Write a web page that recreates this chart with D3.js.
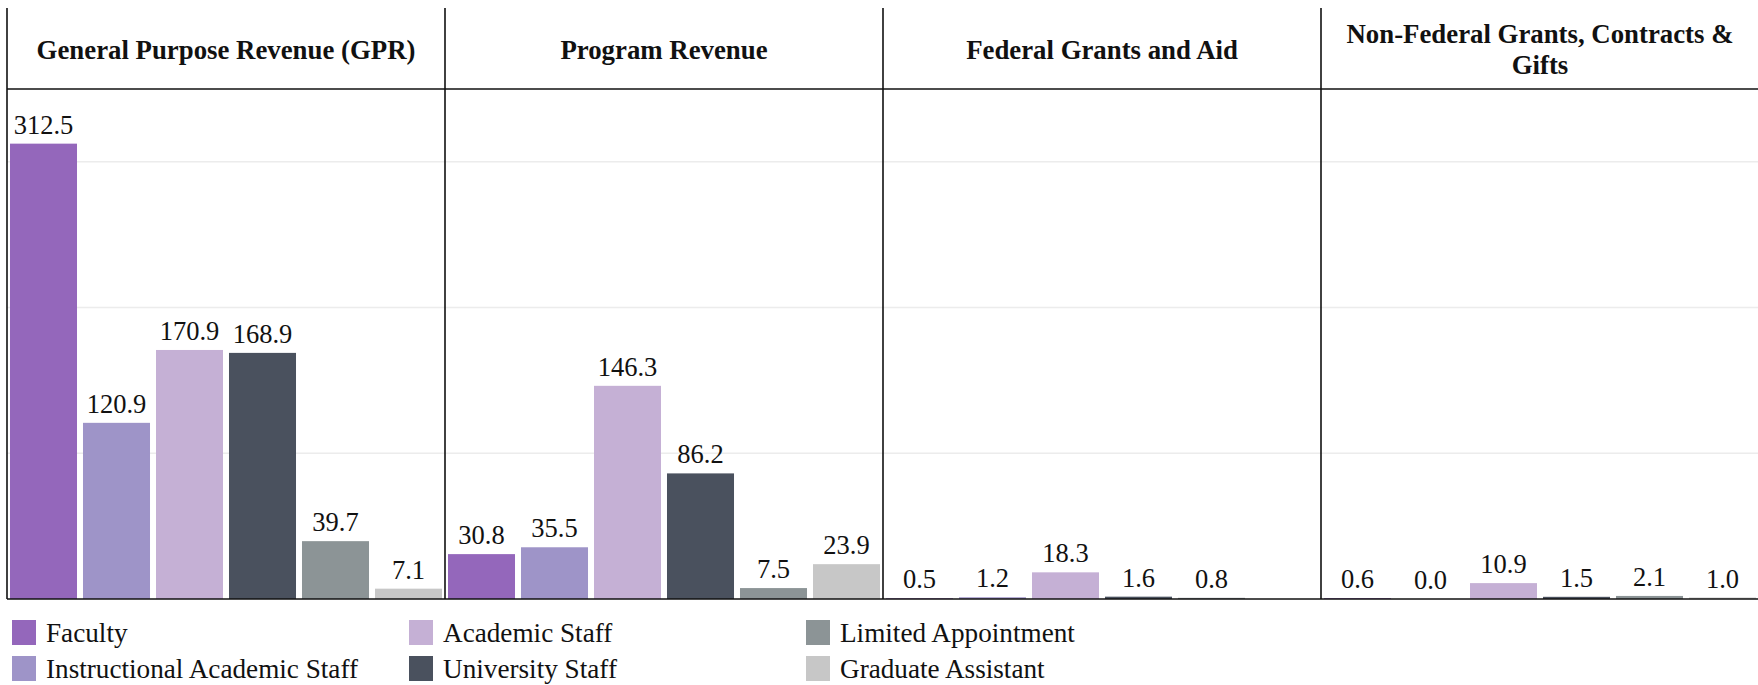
<!DOCTYPE html>
<html>
<head>
<meta charset="utf-8">
<script src="https://cdn.jsdelivr.net/npm/d3@7"></script>
<style>
  html, body { margin: 0; padding: 0; background: #ffffff; }
  svg { display: block; font-family: "Liberation Serif", "Times New Roman", serif; }
</style>
</head>
<body>
<svg id="chart" width="1758" height="685"></svg>
<script>
// Funding sources (one panel each)
const categories = [
  "General Purpose Revenue (GPR)",
  "Program Revenue",
  "Federal Grants and Aid",
  "Non-Federal Grants, Contracts & Gifts"
];

// Employee groups (one bar each inside a panel)
const seriesNames = [
  "Faculty",
  "Instructional Academic Staff",
  "Academic Staff",
  "University Staff",
  "Limited Appointment",
  "Graduate Assistant"
];

// Values per funding source, in the order of `categories`
const faculty         = [312.5, 30.8, 0.5, 0.6];
const instructional   = [120.9, 35.5, 1.2, 0.0];
const academicStaff   = [170.9, 146.3, 18.3, 10.9];
const universityStaff = [168.9, 86.2, 1.6, 1.5];
const limitedAppt     = [39.7, 7.5, 0.8, 2.1];
const gradAssistant   = [7.1, 23.9, null, 1.0];

const seriesColors = ["#9467bb", "#9e94c8", "#c5b0d5", "#4a515e", "#8c9496", "#c7c7c7"];
const yMax = 350;
const gridTicks = [100, 200, 300];

const seriesValues = [faculty, instructional, academicStaff, universityStaff, limitedAppt, gradAssistant];

const svg = d3.select("#chart");

const marginLeft = 7, marginTop = 8, headerH = 81, plotBottom = 599;
const panelW = 438;
const plotTop = marginTop + headerH;

const panelX = d3.scaleBand().domain(categories).range([marginLeft, marginLeft + panelW * categories.length]);
const x = d3.scaleBand().domain(seriesNames).range([0, panelW]).paddingInner(0.082).paddingOuter(0.041);
const y = d3.scaleLinear().domain([0, yMax]).range([plotBottom, plotTop]);
const color = d3.scaleOrdinal().domain(seriesNames).range(seriesColors);

const labelSize = 26.5, titleSize = 26.8, legendSize = 27.2;

categories.forEach((cat, ci) => {
  const g = svg.append("g").attr("transform", `translate(${panelX(cat)},0)`);

  // horizontal grid lines
  g.selectAll("line.grid").data(gridTicks).join("line")
    .attr("class", "grid")
    .attr("x1", 0).attr("x2", panelW)
    .attr("y1", d => y(d)).attr("y2", d => y(d))
    .attr("stroke", "#ececec").attr("stroke-width", 1.5);

  const rows = seriesNames.map((s, si) => ({ s, v: seriesValues[si][ci] }))
    .filter(d => d.v !== null);

  g.selectAll("rect.bar").data(rows).join("rect")
    .attr("class", "bar")
    .attr("x", d => x(d.s))
    .attr("width", x.bandwidth())
    .attr("y", d => y(d.v))
    .attr("height", d => y(0) - y(d.v))
    .attr("fill", d => color(d.s));

  g.selectAll("text.val").data(rows).join("text")
    .attr("class", "val")
    .attr("x", d => x(d.s) + x.bandwidth() / 2)
    .attr("y", d => y(d.v) - 10)
    .attr("text-anchor", "middle")
    .attr("font-size", labelSize)
    .attr("fill", "#111")
    .text(d => d.v.toFixed(1));

  // panel header, wrapped to fit the panel width
  const title = g.append("text")
    .attr("text-anchor", "middle")
    .attr("font-size", titleSize)
    .attr("font-weight", "bold")
    .attr("fill", "#111");
  const words = cat.split(" ");
  const lines = [];
  let cur = [];
  const probe = title.append("tspan");
  words.forEach(w => {
    const trial = cur.concat(w).join(" ");
    probe.text(trial);
    if (probe.node().getComputedTextLength() > panelW - 30 && cur.length) {
      lines.push(cur.join(" "));
      cur = [w];
    } else {
      cur.push(w);
    }
  });
  lines.push(cur.join(" "));
  probe.remove();
  const lh = 30.5;
  const midY = marginTop + headerH / 2 + 10 - (lines.length - 1) * lh / 2;
  lines.forEach((ln, i) => {
    title.append("tspan").attr("x", panelW / 2).attr("y", midY + i * lh).text(ln);
  });

  // panel left rule
  g.append("line")
    .attr("x1", 0).attr("x2", 0)
    .attr("y1", marginTop).attr("y2", plotBottom)
    .attr("stroke", "#111").attr("stroke-width", 1.6);
});

// header underline and baseline
[plotTop, plotBottom].forEach(yy => {
  svg.append("line")
    .attr("x1", marginLeft).attr("x2", 1758)
    .attr("y1", yy).attr("y2", yy)
    .attr("stroke", "#111").attr("stroke-width", 1.6);
});

// legend: three columns, two rows
const legend = svg.append("g").attr("transform", "translate(12,620)");
const item = legend.selectAll("g.item").data(seriesNames).join("g")
  .attr("class", "item")
  .attr("transform", (d, i) => `translate(${Math.floor(i / 2) * 397},${(i % 2) * 36})`);
item.append("rect")
  .attr("width", 24).attr("height", 25)
  .attr("fill", d => color(d));
item.append("text")
  .attr("x", 34).attr("y", 21.5)
  .attr("font-size", legendSize)
  .attr("fill", "#111")
  .text(d => d);
</script>
</body>
</html>
